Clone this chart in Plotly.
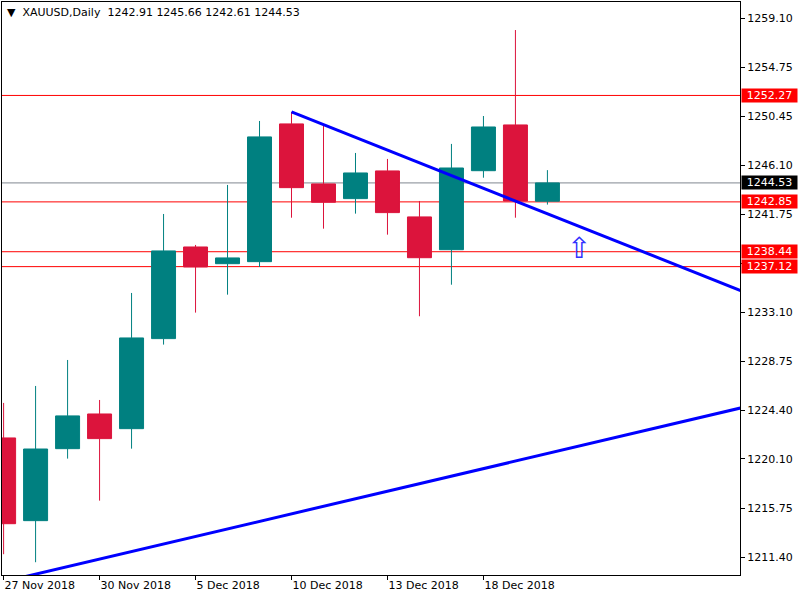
import plotly.graph_objects as go

# ---------------- data ----------------
dates = ["27 Nov 2018", "28 Nov 2018", "29 Nov 2018", "30 Nov 2018", "3 Dec 2018",
         "4 Dec 2018", "5 Dec 2018", "6 Dec 2018", "7 Dec 2018", "10 Dec 2018",
         "11 Dec 2018", "12 Dec 2018", "13 Dec 2018", "14 Dec 2018", "17 Dec 2018",
         "18 Dec 2018", "19 Dec 2018", "20 Dec 2018"]
opens = [1221.96, 1214.64, 1221.01, 1224.08, 1222.78, 1230.75, 1238.86, 1237.38, 1237.56,
         1249.75, 1244.44, 1243.14, 1245.59, 1241.52, 1238.62, 1245.61, 1249.66, 1242.91]
highs = [1225.06, 1226.56, 1228.86, 1225.32, 1234.79, 1241.78, 1239.04, 1244.35, 1250.01,
         1250.81, 1249.66, 1247.18, 1246.65, 1242.93, 1247.98, 1250.45, 1258.06, 1245.66]
lows = [1211.67, 1210.96, 1220.13, 1216.41, 1221.01, 1230.22, 1233.05, 1234.64, 1237.09,
        1241.45, 1240.48, 1241.81, 1239.95, 1232.73, 1235.52, 1244.99, 1241.45, 1242.61]
closes = [1214.37, 1220.98, 1223.91, 1221.90, 1230.81, 1238.51, 1237.09, 1237.89, 1248.60,
          1244.11, 1242.82, 1245.41, 1241.90, 1237.91, 1245.85, 1249.48, 1242.93, 1244.53]

# price axis ticks (MT4 style labels)
ytick_vals = [1259.10, 1254.75, 1250.45, 1246.10, 1241.75, 1237.43, 1233.10,
              1228.75, 1224.40, 1220.10, 1215.75, 1211.40]
ytick_text = ["1259.10", "1254.75", "1250.45", "1246.10", "1241.75", "", "1233.10",
              "1228.75", "1224.40", "1220.10", "1215.75", "1211.40"]

# time axis labels every 3 bars
xtick_idx = [0, 3, 6, 9, 12, 15]

# horizontal levels
red_levels = [1252.27, 1242.85, 1238.44, 1237.12]
bid_level = 1244.53

# trend lines: anchor points (bar index, price)
trend1_x = [9, 16]
trend1_y = [1250.81, 1242.93]
trend2_x = [3, 17]
trend2_y = [1211.24, 1220.58]

# arrow object
arrow_x = 18
arrow_y = 1238.8

header = "▼\u00a0\u00a0XAUUSD,Daily\u00a0\u00a01242.91 1245.66 1242.61 1244.53"

# ---------------- figure ----------------
xs = list(range(len(dates)))
x_range = [-0.05, 23.02]
y_range = [1209.83, 1260.54]

fig = go.Figure()

BLUE = "#0000FF"


def ray(xa, ya, x_start, x_end):
    slope = (ya[1] - ya[0]) / (xa[1] - xa[0])
    return [x_start, x_end], [ya[0] + slope * (x_start - xa[0]), ya[0] + slope * (x_end - xa[0])]


t1x, t1y = ray(trend1_x, trend1_y, trend1_x[0], 24)
t2x, t2y = ray(trend2_x, trend2_y, -2, 24)

fig.add_trace(go.Scatter(x=t1x, y=t1y, mode="lines", line=dict(color=BLUE, width=3),
                         showlegend=False, hoverinfo="skip"))
fig.add_trace(go.Scatter(x=t2x, y=t2y, mode="lines", line=dict(color=BLUE, width=3),
                         showlegend=False, hoverinfo="skip"))

fig.add_trace(go.Candlestick(
    x=xs, open=opens, high=highs, low=lows, close=closes,
    increasing=dict(line=dict(color="#008080", width=1), fillcolor="#008080"),
    decreasing=dict(line=dict(color="#DC143C", width=1), fillcolor="#DC143C"),
    whiskerwidth=0, showlegend=False,
))

shapes = []
for lv in red_levels:
    shapes.append(dict(type="line", xref="paper", x0=0, x1=1, yref="y", y0=lv, y1=lv,
                       line=dict(color="#FF0000", width=1), layer="below"))
shapes.append(dict(type="line", xref="paper", x0=0, x1=1, yref="y", y0=bid_level, y1=bid_level,
                   line=dict(color="#808890", width=1), layer="below"))

annotations = []
for lv in red_levels:
    annotations.append(dict(xref="paper", x=1, xanchor="left", xshift=1, yref="y", y=lv,
                            yanchor="middle", text=f"{lv:.2f}", showarrow=False,
                            bgcolor="#FF0000", font=dict(color="white", size=11, family="DejaVu Sans"),
                            width=55, height=13, borderpad=0, align="center"))
annotations.append(dict(xref="paper", x=1, xanchor="left", xshift=1, yref="y", y=bid_level,
                        yanchor="middle", text=f"{bid_level:.2f}", showarrow=False,
                        bgcolor="#000000", font=dict(color="white", size=11, family="DejaVu Sans"),
                        width=55, height=13, borderpad=0, align="center"))
annotations.append(dict(xref="paper", x=0, xanchor="left", xshift=3, yref="paper", y=1,
                        yanchor="top", yshift=-2, text=header, showarrow=False,
                        font=dict(color="#000000", size=11, family="DejaVu Sans")))
annotations.append(dict(xref="x", x=arrow_x, yref="y", y=arrow_y, text="⇧", showarrow=False,
                        font=dict(color="#3030FF", size=29, family="DejaVu Sans")))

fig.update_layout(
    width=800, height=600,
    margin=dict(l=2, r=60, t=2, b=25),
    paper_bgcolor="white", plot_bgcolor="white",
    boxgap=0.25, boxgroupgap=0,
    shapes=shapes, annotations=annotations,
    font=dict(family="DejaVu Sans", size=11, color="#000000"),
    xaxis=dict(range=x_range, rangeslider=dict(visible=False), showgrid=False, zeroline=False,
               tickmode="array", tickvals=xtick_idx, ticktext=[dates[i] for i in xtick_idx],
               ticks="outside", ticklen=4, tickcolor="#000000",
               ticklabelposition="outside right",
               showline=True, linecolor="#000000", linewidth=1, mirror=True),
    yaxis=dict(range=y_range, side="right", showgrid=False, zeroline=False,
               tickmode="array", tickvals=ytick_vals, ticktext=ytick_text,
               ticks="outside", ticklen=4, tickcolor="#000000",
               showline=True, linecolor="#000000", linewidth=1, mirror=True),
)

fig.write_html("out.html", config={"displayModeBar": False},
               post_script="document.body.style.margin='0';")
